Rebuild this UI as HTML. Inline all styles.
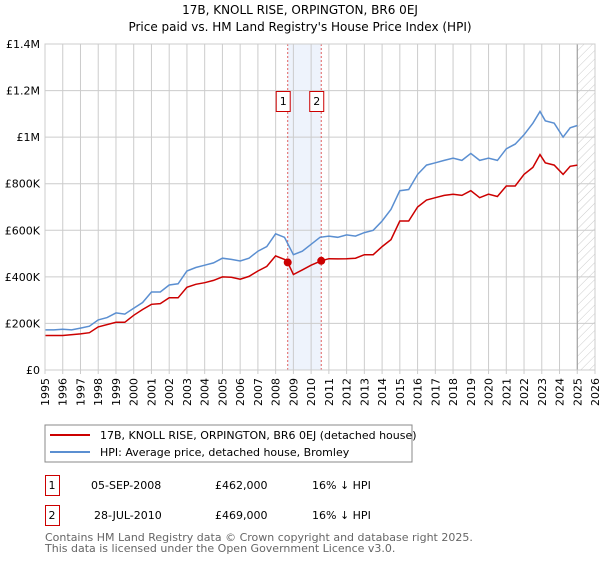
<!DOCTYPE html>
<html><head><meta charset="utf-8"><style>
body{margin:0;background:#fff;font-family:"DejaVu Sans","Liberation Sans",sans-serif;}
svg text{font-family:"DejaVu Sans","Liberation Sans",sans-serif;}
</style></head><body>
<svg id="chart" width="600" height="560" xmlns="http://www.w3.org/2000/svg">
<defs><pattern id="hatch" patternUnits="userSpaceOnUse" width="6" height="6" patternTransform="rotate(45)"><line x1="0" y1="0" x2="0" y2="6" stroke="#ccc" stroke-width="1"/></pattern></defs>
<text x="300" y="14" text-anchor="middle" font-size="12">17B, KNOLL RISE, ORPINGTON, BR6 0EJ</text>
<text x="300" y="31" text-anchor="middle" font-size="12">Price paid vs. HM Land Registry's House Price Index (HPI)</text>
<g id="grid"></g><g id="marks"></g><g id="axes"></g>
<rect x="45" y="425" width="367" height="37" fill="#fff" stroke="#888"/>
<line x1="50" y1="435" x2="90" y2="435" stroke="#cc0000" stroke-width="2"/>
<text x="100" y="439" font-size="11">17B, KNOLL RISE, ORPINGTON, BR6 0EJ (detached house)</text>
<line x1="50" y1="452" x2="90" y2="452" stroke="#5b8fd1" stroke-width="2"/>
<text x="100" y="456" font-size="11">HPI: Average price, detached house, Bromley</text>
<g font-size="11">
<rect x="45.5" y="475.5" width="14" height="20" fill="none" stroke="#cc0000"/>
<text x="52" y="489" text-anchor="middle">1</text>
<text x="91" y="489">05-SEP-2008</text>
<text x="215" y="489">£462,000</text>
<text x="312" y="489">16% ↓ HPI</text>
<rect x="45.5" y="505.5" width="14" height="20" fill="none" stroke="#cc0000"/>
<text x="52" y="519" text-anchor="middle">2</text>
<text x="94" y="519">28-JUL-2010</text>
<text x="215" y="519">£469,000</text>
<text x="312" y="519">16% ↓ HPI</text>
</g>
<text x="45" y="541" font-size="11" fill="#666">Contains HM Land Registry data © Crown copyright and database right 2025.</text>
<text x="45" y="552" font-size="11" fill="#666">This data is licensed under the Open Government Licence v3.0.</text>
</svg>
<script>
const hpiYears=[1995,1995.5,1996,1996.5,1997,1997.5,1998,1998.5,1999,1999.5,2000,2000.5,2001,2001.5,2002,2002.5,2003,2003.5,2004,2004.5,2005,2005.5,2006,2006.5,2007,2007.5,2008,2008.5,2009,2009.5,2010,2010.5,2011,2011.5,2012,2012.5,2013,2013.5,2014,2014.5,2015,2015.5,2016,2016.5,2017,2017.5,2018,2018.5,2019,2019.5,2020,2020.5,2021,2021.5,2022,2022.5,2022.9,2023.2,2023.7,2024.2,2024.6,2025];
const hpiValues=[172,172,175,172,180,188,215,225,245,240,265,290,335,335,365,370,425,440,450,460,480,475,468,480,510,530,585,570,495,510,540,570,575,570,580,575,590,600,640,690,770,775,840,880,890,900,910,900,930,900,910,900,950,970,1010,1060,1110,1070,1060,1000,1040,1050];
const priceYears=[1995,1996,1997,1997.5,1998,1999,1999.5,2000,2000.5,2001,2001.5,2002,2002.5,2003,2003.5,2004,2004.5,2005,2005.5,2006,2006.5,2007,2007.5,2008,2008.5,2008.68,2009,2009.5,2010,2010.57,2011,2011.5,2012,2012.5,2013,2013.5,2014,2014.5,2015,2015.5,2016,2016.5,2017,2017.5,2018,2018.5,2019,2019.5,2020,2020.5,2021,2021.5,2022,2022.5,2022.9,2023.2,2023.7,2024.2,2024.6,2025];
const priceValues=[148,148,155,160,185,205,205,235,260,282,285,310,310,355,368,375,385,400,398,390,402,425,445,490,475,462,410,430,450,469,478,477,478,480,495,495,530,560,640,640,700,730,740,750,755,750,770,740,755,745,790,790,840,870,925,890,880,840,875,880];
const saleYears=[2008.68,2010.57];
const saleValues=[462,469];
const saleLabels=["1","2"];
const yTicks=[0,200,400,600,800,1000,1200,1400];
const yTickLabels=["£0","£200K","£400K","£600K","£800K","£1M","£1.2M","£1.4M"];
const xTicks=[1995,1996,1997,1998,1999,2000,2001,2002,2003,2004,2005,2006,2007,2008,2009,2010,2011,2012,2013,2014,2015,2016,2017,2018,2019,2020,2021,2022,2023,2024,2025,2026];

const X0=45,X1=595,Y0=370,Y1=44;
const xs=y=>X0+(y-1995)/(2026-1995)*(X1-X0);
const ys=v=>Y0-v/1400*(Y0-Y1);
const NS="http://www.w3.org/2000/svg";
function mk(tag,attrs,parent){const e=document.createElementNS(NS,tag);for(const k in attrs)e.setAttribute(k,attrs[k]);parent.appendChild(e);return e;}
const grid=document.getElementById('grid'),marks=document.getElementById('marks'),axes=document.getElementById('axes');
// shaded band
let band=mk('rect',{x:xs(saleYears[0]),y:Y1,width:xs(saleYears[1])-xs(saleYears[0]),height:Y0-Y1,fill:'#eef3fc'},grid);


let hat=mk('rect',{x:xs(2025),y:Y1,width:X1-xs(2025),height:Y0-Y1,fill:'url(#hatch)'},grid);


yTicks.forEach((t,i)=>{
  let l=mk('line',{x1:X0,x2:X1,y1:ys(t),y2:ys(t),stroke:'#ccc'},grid);
  
  
  let tx=mk('text',{x:X0-5,y:ys(t)+4,'text-anchor':'end','font-size':'11'},axes);
  tx.textContent=yTickLabels[i];
  
  
});
xTicks.forEach(t=>{
  let l=mk('line',{x1:xs(t),x2:xs(t),y1:Y1,y2:Y0+4,stroke:'#ccc'},grid);
  
  
  let tx=mk('text',{x:0,y:0,'text-anchor':'end','font-size':'11',transform:`translate(${xs(t)+4},${Y0+8}) rotate(-90)`},axes);
  tx.textContent=t;
  
  
});
let vl=mk('line',{x1:xs(2025),x2:xs(2025),y1:Y1,y2:Y0,stroke:'#999'},grid);


saleYears.forEach((y,i)=>{
  let l=mk('line',{x1:xs(y),x2:xs(y),y1:Y1,y2:Y0,stroke:'#e06060','stroke-dasharray':'2,2'},grid);
  
  
  let r=mk('rect',{x:xs(y)-11.5,y:91.5,width:14,height:20,fill:'#fff',stroke:'#cc0000'},axes);
  
  
  let t=mk('text',{x:xs(y)-4.5,y:105,'text-anchor':'middle','font-size':'11'},axes);
  t.textContent=saleLabels[i];
  
  
});
let br=mk('rect',{x:X0,y:Y1,width:X1-X0,height:Y0-Y1,fill:'none',stroke:'#ccc'},axes);


function path(xsArr,vals){return xsArr.map((y,i)=>(i?'L':'M')+xs(y).toFixed(1)+','+ys(vals[i]).toFixed(1)).join('');}
let hp=mk('path',{d:path(hpiYears,hpiValues),fill:'none',stroke:'#5b8fd1','stroke-width':'1.5'},marks);


let pp=mk('path',{d:path(priceYears,priceValues),fill:'none',stroke:'#cc0000','stroke-width':'1.5'},marks);


saleYears.forEach((y,i)=>{
  let c=mk('circle',{cx:xs(y),cy:ys(saleValues[i]),r:4,fill:'#cc0000'},marks);
  
  
});
</script>
</body></html>
